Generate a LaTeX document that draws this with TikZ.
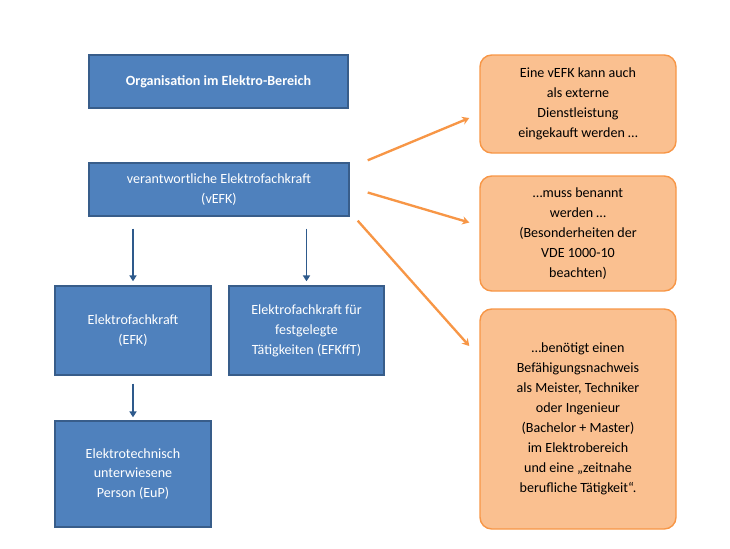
\documentclass[tikz,border=0pt]{standalone}
\usepackage{fontspec}
\setmainfont{Carlito}
\usetikzlibrary{arrows.meta}
\definecolor{boxblue}{HTML}{4F81BD}
\definecolor{lineblue}{HTML}{385D8A}
\definecolor{arrowblue}{HTML}{2E5A8C}
\definecolor{boxorange}{HTML}{FAC090}
\definecolor{lineorange}{HTML}{F79646}
\tikzstyle{bluebox} = [rectangle, draw=lineblue, fill=boxblue, line width=1.2pt,
text=white, align=center, font=\fontsize{12}{17}\selectfont, inner sep=2pt]
\tikzstyle{notebox} = [rectangle, rounded corners=10pt, draw=lineorange, fill=boxorange,
line width=1.2pt, align=center, font=\fontsize{12}{17}\selectfont,
minimum width=196*0.03cm, inner sep=2pt]
\tikzstyle{downarrow} = [line width=1.6pt, draw=arrowblue, -{Triangle[length=5pt,width=6pt]}]
\tikzstyle{notearrow} = [line width=2pt, draw=lineorange, -{Stealth[length=6pt,width=7pt]}]

\begin{document}
\begin{tikzpicture}[x=0.03cm, y=-0.03cm]
\useasboundingbox (0,0) rectangle (730,548);

%-----------left hierarchy
\node (title) [bluebox, minimum width=259*0.03cm, minimum height=53*0.03cm]
  at (218.5,81.5) {\textbf{Organisation im Elektro-Bereich}};
\node (vefk) [bluebox, minimum width=260*0.03cm, minimum height=53*0.03cm]
  at (219,189.5) {verantwortliche Elektrofachkraft\\(vEFK)};
\node (efk) [bluebox, minimum width=156*0.03cm, minimum height=89*0.03cm]
  at (133,330.5) {Elektrofachkraft\\(EFK)};
\node (efkfft) [bluebox, minimum width=155*0.03cm, minimum height=89*0.03cm]
  at (306.5,330.5) {Elektrofachkraft für\\festgelegte\\Tätigkeiten (EFKffT)};
\node (eup) [bluebox, minimum width=156*0.03cm, minimum height=106*0.03cm]
  at (133,474) {Elektrotechnisch\\unterwiesene\\Person (EuP)};

%-----------notes
\node (note1) [notebox, minimum height=98*0.03cm] at (578,104)
  {Eine vEFK kann auch\\als externe\\Dienstleistung\\eingekauft werden …};
\node (note2) [notebox, minimum height=115*0.03cm] at (578,233.5)
  {…muss benannt\\werden …\\(Besonderheiten der\\VDE 1000-10\\beachten)};
\node (note3) [notebox, minimum height=220*0.03cm] at (578,419)
  {…benötigt einen\\Befähigungsnachweis\\als Meister, Techniker\\oder Ingenieur\\(Bachelor + Master)\\im Elektrobereich\\und eine „zeitnahe\\berufliche Tätigkeit“.};

\draw [downarrow, shorten <=12*0.03cm, shorten >=4*0.03cm] (vefk.south -| efk) -- (efk);
\draw [downarrow, shorten <=12*0.03cm, shorten >=4*0.03cm] (vefk.south -| efkfft.center) -- (efkfft);
\draw [downarrow, shorten <=8*0.03cm, shorten >=3*0.03cm] (efk) -- (eup);

\draw [notearrow] ([xshift=18*0.03cm, yshift=2*0.03cm]vefk.north east) -- ([xshift=-10*0.03cm, yshift=-14*0.03cm]note1.west);
\draw [notearrow] ([xshift=18*0.03cm, yshift=-3*0.03cm]vefk.east) -- ([xshift=-10*0.03cm, yshift=11*0.03cm]note2.west);
\draw [notearrow] ([xshift=8*0.03cm, yshift=-4*0.03cm]vefk.south east) -- ([xshift=-10*0.03cm, yshift=73*0.03cm]note3.west);
\end{tikzpicture}
\end{document}
